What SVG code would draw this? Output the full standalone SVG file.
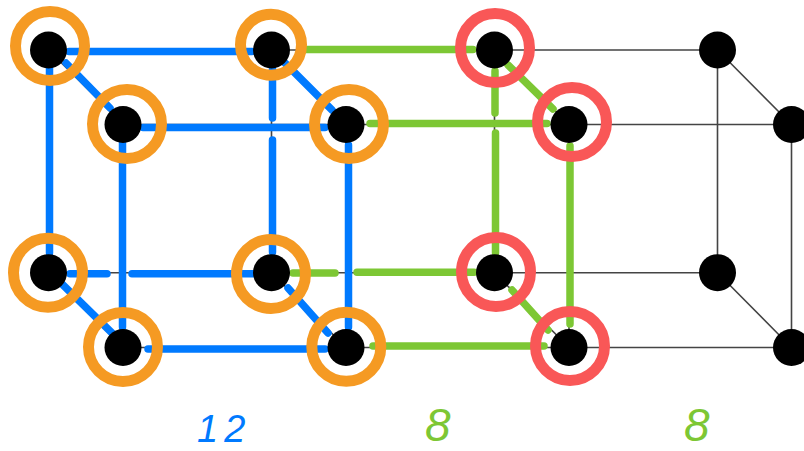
<svg xmlns="http://www.w3.org/2000/svg" width="804" height="451" viewBox="0 0 804 451">
<style>
.e{stroke:#444;stroke-width:1.6;fill:none}
.b,.g{fill:none;stroke-width:7.5;stroke-linecap:round}
.b{stroke:#007AFF}
.g{stroke:#7DC734}
.n{fill:#000}
.o,.r{fill:none;stroke-width:11}
.o{stroke:#F59A23}
.r{stroke:#F95757}
text{font-family:"Liberation Sans",Arial,sans-serif;font-style:italic}
</style>
<rect width="804" height="451" fill="#fff"/>
<g id="connectors">
<path class="e" d="M48.5 50H717.5M123 124.500H791.500M48.500 272.700H717.500M123 347.500H791.500M48.500 50V272.700M123 124.500V347.500M271.500 50V272.700M346 124.500V347.500M494.500 50V272.700M569 124.500V347.500M717.500 50V272.700M791.500 124.500V347.500M48.500 50L123 124.500M271.500 50L346 124.500M494.500 50L569 124.500M717.500 50L791.500 124.500M48.500 272.700L123 347.500M271.500 272.700L346 347.500M494.500 272.700L569 347.500M717.500 272.700L791.500 347.500"/>
<path class="b" d="M69 51.500H252M66 63L110 108M49.500 67V253M122.500 143V327M143 127.500H325M272.500 69V118M272.500 140V252M285 63L332 110M348.500 145V327M70 273.700H107M132 273.700H254M61 283L112 333M288 288L328 333M148 349H325"/>
<path class="g" d="M305 49.500H473M370 123.500H547M495 71V113M495.500 133V253M570 146V324M508 65L553 109M293 273H335M357 272.300H474M512 290L548 330M373 346H544"/>
</g>
<g id="node-1"><circle class="n" cx="48.500" cy="50" r="18.500"/><circle class="o" cx="50" cy="46" r="34.500"/></g>
<g id="node-2"><circle class="n" cx="271.500" cy="50" r="18.500"/><circle class="o" cx="271" cy="44.700" r="30.500"/></g>
<g id="node-3"><circle class="n" cx="494.500" cy="50" r="18.500"/><circle class="r" cx="495" cy="48" r="34.500"/></g>
<g id="node-4"><circle class="n" cx="717.500" cy="50" r="18.500"/></g>
<g id="node-5"><circle class="n" cx="123" cy="124.500" r="18.500"/><circle class="o" cx="127" cy="124" r="34.500"/></g>
<g id="node-6"><circle class="n" cx="346" cy="124.500" r="18.500"/><circle class="o" cx="349" cy="124" r="34.500"/></g>
<g id="node-7"><circle class="n" cx="569" cy="124.500" r="18.500"/><circle class="r" cx="572" cy="122" r="34.500"/></g>
<g id="node-8"><circle class="n" cx="791.500" cy="124.500" r="18.500"/></g>
<g id="node-9"><circle class="n" cx="48.500" cy="272.700" r="18.500"/><circle class="o" cx="48" cy="272.700" r="34.500"/></g>
<g id="node-10"><circle class="n" cx="271.500" cy="272.700" r="18.500"/><circle class="o" cx="271" cy="274" r="34.500"/></g>
<g id="node-11"><circle class="n" cx="494.500" cy="272.700" r="18.500"/><circle class="r" cx="496" cy="272" r="34.500"/></g>
<g id="node-12"><circle class="n" cx="717.500" cy="272.700" r="18.500"/></g>
<g id="node-13"><circle class="n" cx="123" cy="347.500" r="18.500"/><circle class="o" cx="123" cy="347" r="34.500"/></g>
<g id="node-14"><circle class="n" cx="346" cy="347.500" r="18.500"/><circle class="o" cx="346.300" cy="346.700" r="34.500"/></g>
<g id="node-15"><circle class="n" cx="569" cy="347.500" r="18.500"/><circle class="r" cx="570" cy="346" r="34.500"/></g>
<g id="node-16"><circle class="n" cx="791.500" cy="347.500" r="18.500"/></g>
<g id="labels">
<text x="197" y="442" font-size="38" letter-spacing="6" fill="#007AFF">12</text>
<text x="425" y="441" font-size="46" fill="#7DC734">8</text>
<text x="684" y="441" font-size="46" fill="#7DC734">8</text>
</g>
</svg>
